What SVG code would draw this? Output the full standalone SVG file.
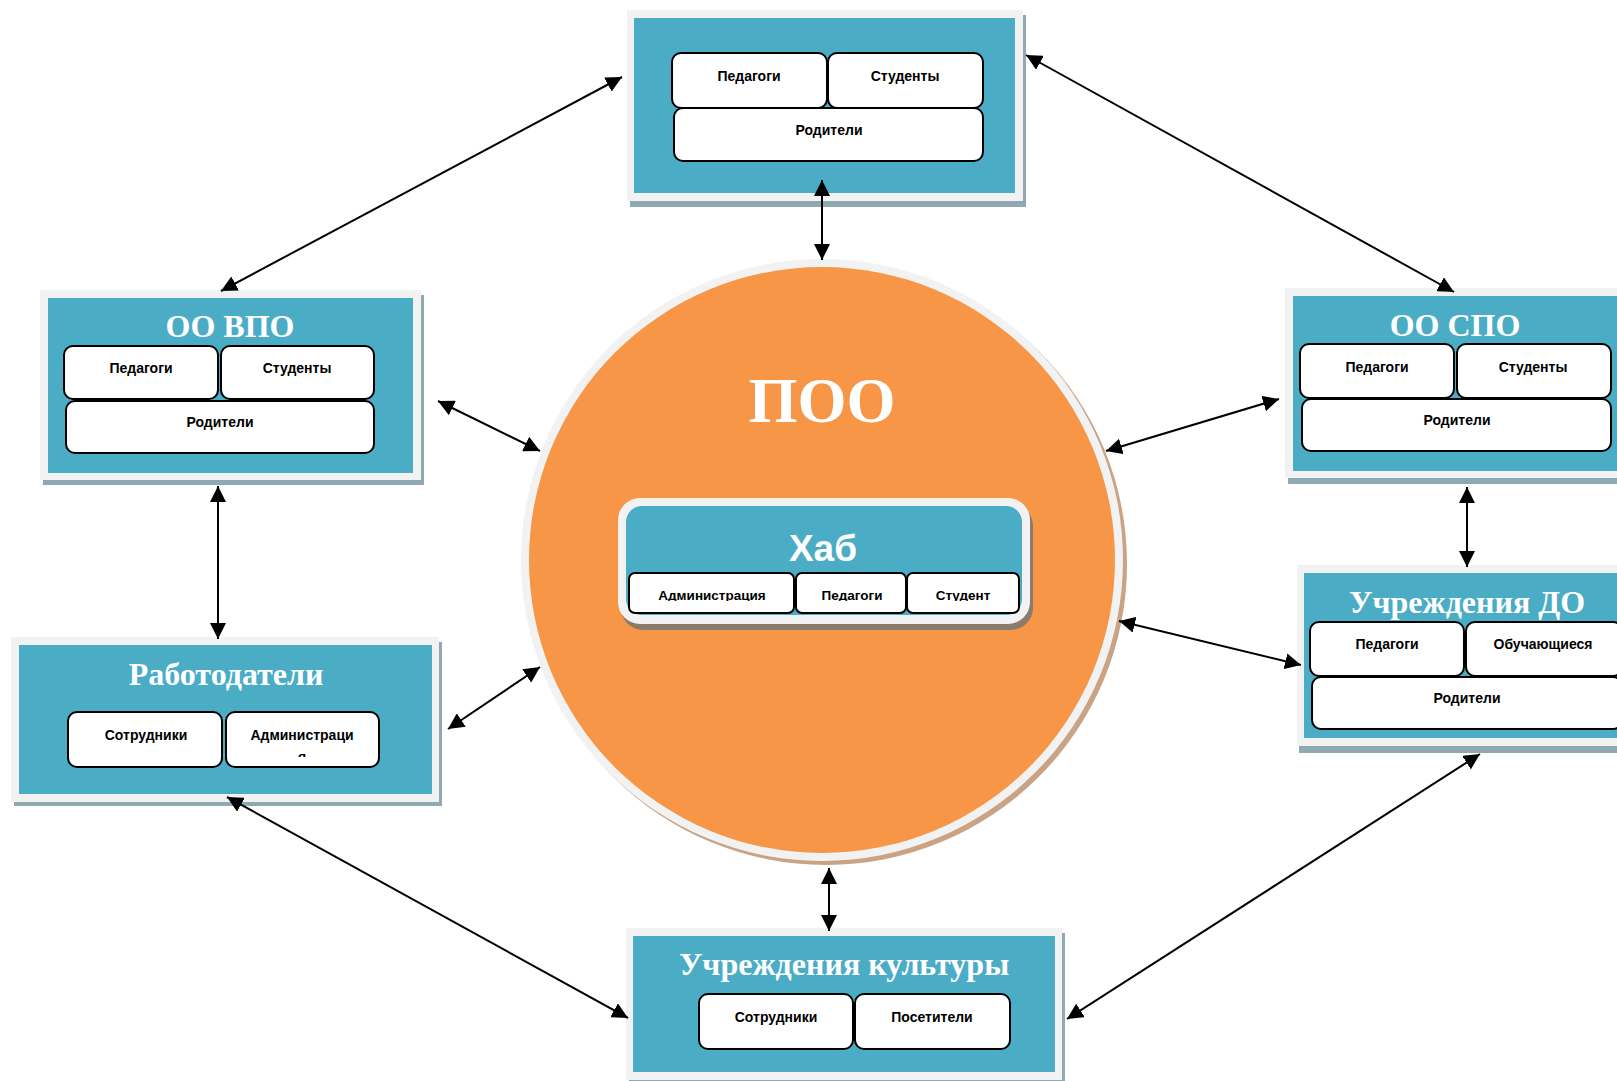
<svg xmlns="http://www.w3.org/2000/svg" width="1617" height="1081" viewBox="0 0 1617 1081">
<style>
.shadow{fill:#8FA9B3}
.frame{fill:#F2F2F2}
.teal{fill:#4BACC6}
.sub{fill:#FFFFFF;stroke:#000000;stroke-width:2}
.st{font-family:"Liberation Sans",Arial,sans-serif;font-weight:bold;font-size:14px;fill:#000000;text-anchor:middle}
.hs{font-family:"Liberation Sans",Arial,sans-serif;font-weight:bold;font-size:13.5px;fill:#000000;text-anchor:middle}
.title{font-family:"Liberation Serif","Times New Roman",serif;font-weight:bold;font-size:32px;fill:#FFFFFF;text-anchor:middle}
.conn{stroke:#000000;stroke-width:2;fill:none;marker-start:url(#ah);marker-end:url(#ah)}
</style>
<defs>
<marker id="ah" viewBox="0 0 16 16" refX="16" refY="8" markerWidth="16" markerHeight="16" markerUnits="userSpaceOnUse" orient="auto-start-reverse">
<path d="M0,0 L16,8 L0,16 z" fill="#000000"/>
</marker>
<clipPath id="clipHub"><rect x="600" y="560" width="440" height="41"/></clipPath>
<clipPath id="clipAdm"><rect x="226" y="712" width="153" height="45"/></clipPath>
</defs>
<rect x="0" y="0" width="1617" height="1081" fill="#FFFFFF"/>

<g id="poo">
<circle cx="826" cy="564" r="301" fill="#C9A384"/>
<circle cx="822" cy="560" r="301" fill="#F2F2F2"/>
<circle cx="822" cy="560" r="293" fill="#F79646"/>
<text x="822" y="422" font-family="'Liberation Serif','Times New Roman',serif" font-weight="bold" font-size="63" fill="#FFFFFF" text-anchor="middle">ПОО</text>
</g>

<g id="hub">
<rect x="621" y="504" width="412" height="126" rx="22" fill="#8B7B6B"/>
<rect x="618" y="498" width="412" height="126" rx="22" class="frame"/>
<rect x="626" y="506" width="396" height="109" rx="16" class="teal"/>
<text x="823" y="561" font-family="'Liberation Sans',Arial,sans-serif" font-weight="bold" font-size="37" fill="#FFFFFF" text-anchor="middle">Хаб</text>
<rect x="629" y="573" width="165" height="40" rx="6" class="sub"/>
<rect x="796" y="573" width="110" height="40" rx="6" class="sub"/>
<rect x="907" y="573" width="112" height="40" rx="6" class="sub"/>
<g clip-path="url(#clipHub)">
<text x="712" y="600" class="hs">Администрация</text>
<text x="852" y="600" class="hs">Педагоги</text>
<text x="963" y="600" class="hs">Студент</text>
</g>
</g>

<g id="top">
<rect x="630" y="15" width="396" height="192" class="shadow"/>
<rect x="627" y="10" width="396" height="191" class="frame"/>
<rect x="634" y="18" width="381" height="175" class="teal"/>
<rect x="672" y="53" width="155" height="55" rx="9" class="sub"/>
<rect x="828" y="53" width="155" height="55" rx="9" class="sub"/>
<rect x="674" y="108" width="309" height="53" rx="9" class="sub"/>
<text x="749" y="81" class="st">Педагоги</text>
<text x="905" y="81" class="st">Студенты</text>
<text x="829" y="135" class="st">Родители</text>
</g>

<g id="vpo">
<rect x="43" y="295" width="381" height="190" class="shadow"/>
<rect x="40" y="290" width="381" height="190" class="frame"/>
<rect x="48" y="298" width="365" height="175" class="teal"/>
<text x="230" y="337" class="title">ОО ВПО</text>
<rect x="64" y="346" width="154" height="53" rx="9" class="sub"/>
<rect x="221" y="346" width="153" height="53" rx="9" class="sub"/>
<rect x="66" y="401" width="308" height="52" rx="9" class="sub"/>
<text x="141" y="373" class="st">Педагоги</text>
<text x="297" y="373" class="st">Студенты</text>
<text x="220" y="427" class="st">Родители</text>
</g>

<g id="employers">
<rect x="14" y="642" width="428" height="164" class="shadow"/>
<rect x="11" y="637" width="428" height="165" class="frame"/>
<rect x="19" y="645" width="413" height="149" class="teal"/>
<text x="226" y="685" class="title">Работодатели</text>
<rect x="68" y="712" width="154" height="55" rx="9" class="sub"/>
<rect x="226" y="712" width="153" height="55" rx="9" class="sub"/>
<text x="146" y="740" class="st">Сотрудники</text>
<g clip-path="url(#clipAdm)">
<text x="302" y="740" class="st">Администраци</text>
<text x="302" y="762" class="st">я</text>
</g>
</g>

<g id="spo">
<rect x="1288" y="293" width="340" height="191" class="shadow"/>
<rect x="1285" y="288" width="340" height="190" class="frame"/>
<rect x="1293" y="296" width="340" height="175" class="teal"/>
<text x="1455" y="336" class="title">ОО СПО</text>
<rect x="1300" y="344" width="154" height="54" rx="9" class="sub"/>
<rect x="1457" y="344" width="154" height="54" rx="9" class="sub"/>
<rect x="1302" y="399" width="309" height="52" rx="9" class="sub"/>
<text x="1377" y="372" class="st">Педагоги</text>
<text x="1533" y="372" class="st">Студенты</text>
<text x="1457" y="425" class="st">Родители</text>
</g>

<g id="do">
<rect x="1299" y="570" width="340" height="183" class="shadow"/>
<rect x="1297" y="565" width="340" height="181" class="frame"/>
<rect x="1304" y="573" width="340" height="165" class="teal"/>
<text x="1467" y="613" class="title">Учреждения ДО</text>
<rect x="1310" y="622" width="154" height="54" rx="9" class="sub"/>
<rect x="1466" y="622" width="156" height="54" rx="9" class="sub"/>
<rect x="1312" y="677" width="310" height="52" rx="9" class="sub"/>
<text x="1387" y="649" class="st">Педагоги</text>
<text x="1543" y="649" class="st">Обучающиеся</text>
<text x="1467" y="703" class="st">Родители</text>
</g>

<g id="culture">
<rect x="629" y="933" width="436" height="152" class="shadow"/>
<rect x="626" y="928" width="436" height="152" class="frame"/>
<rect x="633" y="936" width="422" height="136" class="teal"/>
<text x="844" y="975" class="title">Учреждения культуры</text>
<rect x="699" y="994" width="154" height="55" rx="9" class="sub"/>
<rect x="855" y="994" width="155" height="55" rx="9" class="sub"/>
<text x="776" y="1022" class="st">Сотрудники</text>
<text x="932" y="1022" class="st">Посетители</text>
</g>

<g id="connectors">
<line x1="622" y1="77" x2="221" y2="291" class="conn"/>
<line x1="1026" y1="55" x2="1454" y2="292" class="conn"/>
<line x1="822" y1="180" x2="822" y2="260" class="conn"/>
<line x1="438" y1="401" x2="540" y2="451" class="conn"/>
<line x1="1279" y1="399" x2="1106" y2="451" class="conn"/>
<line x1="218" y1="486" x2="218" y2="639" class="conn"/>
<line x1="1467" y1="487" x2="1467" y2="567" class="conn"/>
<line x1="448" y1="729" x2="540" y2="667" class="conn"/>
<line x1="1301" y1="665" x2="1119" y2="621" class="conn"/>
<line x1="227" y1="797" x2="628" y2="1018" class="conn"/>
<line x1="1480" y1="754" x2="1067" y2="1019" class="conn"/>
<line x1="829" y1="868" x2="829" y2="931" class="conn"/>
</g>
</svg>
